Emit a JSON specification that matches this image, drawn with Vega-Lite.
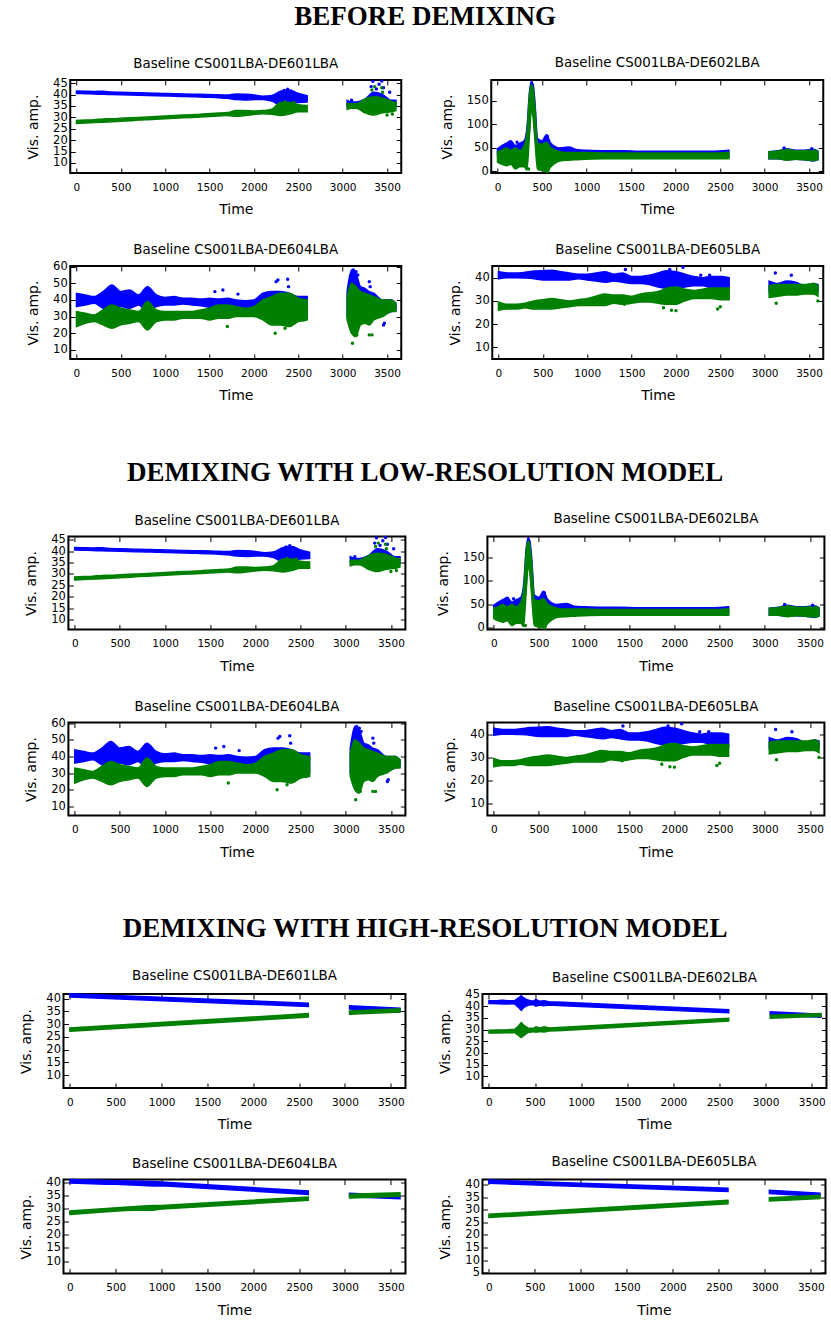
{
"$schema": "https://vega.github.io/schema/vega-lite/v6.json",
"background": "white",
"padding": {"left": 18, "top": 3, "right": 0, "bottom": 0},
"spacing": 54.5,
"center": true,
"datasets": {
"band": [
{"p":"A","s":"b","t":0,"lo":40.5,"hi":41.6},{"p":"A","s":"b","t":100,"lo":40.4,"hi":41.5},{"p":"A","s":"b","t":200,"lo":40.3,"hi":41.4},{"p":"A","s":"b","t":300,"lo":40.1,"hi":41.5},{"p":"A","s":"b","t":400,"lo":40.0,"hi":41.1},{"p":"A","s":"b","t":500,"lo":39.9,"hi":41.0},{"p":"A","s":"b","t":600,"lo":39.8,"hi":40.9},{"p":"A","s":"b","t":700,"lo":39.7,"hi":40.8},{"p":"A","s":"b","t":800,"lo":39.6,"hi":40.7},{"p":"A","s":"b","t":900,"lo":39.5,"hi":40.6},{"p":"A","s":"b","t":1000,"lo":39.4,"hi":40.5},{"p":"A","s":"b","t":1100,"lo":39.3,"hi":40.4},{"p":"A","s":"b","t":1200,"lo":39.2,"hi":40.3},{"p":"A","s":"b","t":1300,"lo":39.1,"hi":40.2},{"p":"A","s":"b","t":1400,"lo":38.9,"hi":40.1},{"p":"A","s":"b","t":1500,"lo":38.8,"hi":40.0},{"p":"A","s":"b","t":1600,"lo":38.6,"hi":39.9},{"p":"A","s":"b","t":1700,"lo":38.4,"hi":39.8},{"p":"A","s":"b","t":1800,"lo":37.8,"hi":40.3},{"p":"A","s":"b","t":1900,"lo":37.6,"hi":40.1},{"p":"A","s":"b","t":2000,"lo":37.8,"hi":39.8},{"p":"A","s":"b","t":2100,"lo":37.9,"hi":39.3},{"p":"A","s":"b","t":2200,"lo":37.2,"hi":39.6},{"p":"A","s":"b","t":2300,"lo":35.5,"hi":41.5},{"p":"A","s":"b","t":2400,"lo":35.8,"hi":42.0},{"p":"A","s":"b","t":2500,"lo":36.5,"hi":40.5},{"p":"A","s":"b","t":2600,"lo":36.8,"hi":39.5},{"p":"A","s":"b","t":2800,"lo":null,"hi":null},{"p":"A","s":"b","t":3050,"lo":35.0,"hi":37.5},{"p":"A","s":"b","t":3100,"lo":35.5,"hi":36.8},{"p":"A","s":"b","t":3150,"lo":35.5,"hi":36.8},{"p":"A","s":"b","t":3250,"lo":34.0,"hi":38.0},{"p":"A","s":"b","t":3350,"lo":33.0,"hi":41.0},{"p":"A","s":"b","t":3450,"lo":33.0,"hi":40.0},{"p":"A","s":"b","t":3550,"lo":34.0,"hi":37.5},{"p":"A","s":"b","t":3600,"lo":34.5,"hi":37.5},
{"p":"A","s":"g","t":0,"lo":27.3,"hi":28.6},{"p":"A","s":"g","t":100,"lo":27.5,"hi":28.8},{"p":"A","s":"g","t":200,"lo":27.7,"hi":29.0},{"p":"A","s":"g","t":300,"lo":27.9,"hi":29.3},{"p":"A","s":"g","t":400,"lo":28.1,"hi":29.4},{"p":"A","s":"g","t":500,"lo":28.3,"hi":29.6},{"p":"A","s":"g","t":600,"lo":28.5,"hi":29.8},{"p":"A","s":"g","t":700,"lo":28.8,"hi":30.0},{"p":"A","s":"g","t":800,"lo":29.0,"hi":30.2},{"p":"A","s":"g","t":900,"lo":29.2,"hi":30.4},{"p":"A","s":"g","t":1000,"lo":29.4,"hi":30.6},{"p":"A","s":"g","t":1100,"lo":29.6,"hi":30.8},{"p":"A","s":"g","t":1200,"lo":29.8,"hi":31.0},{"p":"A","s":"g","t":1300,"lo":30.0,"hi":31.2},{"p":"A","s":"g","t":1400,"lo":30.2,"hi":31.4},{"p":"A","s":"g","t":1500,"lo":30.4,"hi":31.7},{"p":"A","s":"g","t":1600,"lo":30.6,"hi":31.9},{"p":"A","s":"g","t":1700,"lo":30.8,"hi":32.1},{"p":"A","s":"g","t":1800,"lo":30.5,"hi":33.0},{"p":"A","s":"g","t":1900,"lo":30.8,"hi":33.0},{"p":"A","s":"g","t":2000,"lo":31.3,"hi":32.8},{"p":"A","s":"g","t":2100,"lo":31.6,"hi":33.0},{"p":"A","s":"g","t":2200,"lo":31.4,"hi":33.6},{"p":"A","s":"g","t":2300,"lo":30.8,"hi":36.5},{"p":"A","s":"g","t":2400,"lo":31.5,"hi":36.5},{"p":"A","s":"g","t":2500,"lo":32.5,"hi":35.5},{"p":"A","s":"g","t":2600,"lo":32.5,"hi":35.2},{"p":"A","s":"g","t":2800,"lo":null,"hi":null},{"p":"A","s":"g","t":3050,"lo":33.5,"hi":36.0},{"p":"A","s":"g","t":3100,"lo":34.0,"hi":36.0},{"p":"A","s":"g","t":3150,"lo":34.0,"hi":36.0},{"p":"A","s":"g","t":3250,"lo":32.0,"hi":38.0},{"p":"A","s":"g","t":3350,"lo":31.0,"hi":39.0},{"p":"A","s":"g","t":3450,"lo":32.0,"hi":38.5},{"p":"A","s":"g","t":3550,"lo":32.5,"hi":37.0},{"p":"A","s":"g","t":3600,"lo":33.0,"hi":36.5},
{"p":"B","s":"b","t":0,"lo":35,"hi":48},{"p":"B","s":"b","t":50,"lo":30,"hi":55},{"p":"B","s":"b","t":100,"lo":25,"hi":60},{"p":"B","s":"b","t":150,"lo":28,"hi":65},{"p":"B","s":"b","t":200,"lo":22,"hi":55},{"p":"B","s":"b","t":250,"lo":20,"hi":60},{"p":"B","s":"b","t":300,"lo":25,"hi":65},{"p":"B","s":"b","t":330,"lo":40,"hi":90},{"p":"B","s":"b","t":360,"lo":90,"hi":170},{"p":"B","s":"b","t":380,"lo":140,"hi":192},{"p":"B","s":"b","t":400,"lo":130,"hi":185},{"p":"B","s":"b","t":420,"lo":80,"hi":150},{"p":"B","s":"b","t":450,"lo":20,"hi":70},{"p":"B","s":"b","t":500,"lo":15,"hi":65},{"p":"B","s":"b","t":550,"lo":10,"hi":78},{"p":"B","s":"b","t":600,"lo":20,"hi":60},{"p":"B","s":"b","t":700,"lo":28,"hi":50},{"p":"B","s":"b","t":800,"lo":28,"hi":52},{"p":"B","s":"b","t":900,"lo":30,"hi":46},{"p":"B","s":"b","t":1000,"lo":30,"hi":45},{"p":"B","s":"b","t":1200,"lo":30,"hi":44},{"p":"B","s":"b","t":1400,"lo":30,"hi":44},{"p":"B","s":"b","t":1600,"lo":30,"hi":43},{"p":"B","s":"b","t":1800,"lo":30,"hi":43},{"p":"B","s":"b","t":2000,"lo":30,"hi":43},{"p":"B","s":"b","t":2200,"lo":30,"hi":43},{"p":"B","s":"b","t":2400,"lo":30,"hi":43},{"p":"B","s":"b","t":2600,"lo":30,"hi":45},{"p":"B","s":"b","t":2800,"lo":null,"hi":null},{"p":"B","s":"b","t":3050,"lo":27,"hi":42},{"p":"B","s":"b","t":3150,"lo":27,"hi":44},{"p":"B","s":"b","t":3250,"lo":25,"hi":48},{"p":"B","s":"b","t":3350,"lo":26,"hi":45},{"p":"B","s":"b","t":3450,"lo":25,"hi":45},{"p":"B","s":"b","t":3550,"lo":22,"hi":47},{"p":"B","s":"b","t":3600,"lo":25,"hi":43},
{"p":"B","s":"g","t":0,"lo":20,"hi":42},{"p":"B","s":"g","t":50,"lo":15,"hi":45},{"p":"B","s":"g","t":100,"lo":12,"hi":50},{"p":"B","s":"g","t":150,"lo":15,"hi":45},{"p":"B","s":"g","t":200,"lo":5,"hi":50},{"p":"B","s":"g","t":250,"lo":10,"hi":45},{"p":"B","s":"g","t":300,"lo":10,"hi":55},{"p":"B","s":"g","t":330,"lo":3,"hi":80},{"p":"B","s":"g","t":360,"lo":80,"hi":165},{"p":"B","s":"g","t":380,"lo":130,"hi":185},{"p":"B","s":"g","t":400,"lo":115,"hi":175},{"p":"B","s":"g","t":420,"lo":70,"hi":140},{"p":"B","s":"g","t":450,"lo":5,"hi":60},{"p":"B","s":"g","t":500,"lo":2,"hi":58},{"p":"B","s":"g","t":550,"lo":0,"hi":62},{"p":"B","s":"g","t":600,"lo":10,"hi":50},{"p":"B","s":"g","t":700,"lo":22,"hi":42},{"p":"B","s":"g","t":800,"lo":24,"hi":40},{"p":"B","s":"g","t":900,"lo":25,"hi":40},{"p":"B","s":"g","t":1000,"lo":26,"hi":40},{"p":"B","s":"g","t":1200,"lo":27,"hi":39},{"p":"B","s":"g","t":1400,"lo":27,"hi":39},{"p":"B","s":"g","t":1600,"lo":27,"hi":39},{"p":"B","s":"g","t":1800,"lo":27,"hi":39},{"p":"B","s":"g","t":2000,"lo":27,"hi":39},{"p":"B","s":"g","t":2200,"lo":27,"hi":39},{"p":"B","s":"g","t":2400,"lo":27,"hi":39},{"p":"B","s":"g","t":2600,"lo":27,"hi":41},{"p":"B","s":"g","t":2800,"lo":null,"hi":null},{"p":"B","s":"g","t":3050,"lo":27,"hi":42},{"p":"B","s":"g","t":3150,"lo":27,"hi":43},{"p":"B","s":"g","t":3250,"lo":24,"hi":47},{"p":"B","s":"g","t":3350,"lo":26,"hi":44},{"p":"B","s":"g","t":3450,"lo":25,"hi":44},{"p":"B","s":"g","t":3550,"lo":23,"hi":46},{"p":"B","s":"g","t":3600,"lo":25,"hi":42},
{"p":"C","s":"b","t":0,"lo":36,"hi":44},{"p":"C","s":"b","t":100,"lo":37,"hi":43},{"p":"C","s":"b","t":200,"lo":38,"hi":42},{"p":"C","s":"b","t":300,"lo":35,"hi":45},{"p":"C","s":"b","t":400,"lo":34,"hi":49},{"p":"C","s":"b","t":500,"lo":36,"hi":45},{"p":"C","s":"b","t":600,"lo":35,"hi":46},{"p":"C","s":"b","t":700,"lo":37,"hi":43},{"p":"C","s":"b","t":800,"lo":33,"hi":48},{"p":"C","s":"b","t":900,"lo":36,"hi":43},{"p":"C","s":"b","t":1000,"lo":37,"hi":41.5},{"p":"C","s":"b","t":1100,"lo":37,"hi":42},{"p":"C","s":"b","t":1200,"lo":37.5,"hi":41},{"p":"C","s":"b","t":1300,"lo":37,"hi":41},{"p":"C","s":"b","t":1400,"lo":36.5,"hi":40.5},{"p":"C","s":"b","t":1500,"lo":35.5,"hi":41},{"p":"C","s":"b","t":1600,"lo":35,"hi":40.5},{"p":"C","s":"b","t":1700,"lo":35,"hi":41},{"p":"C","s":"b","t":1800,"lo":34.5,"hi":40},{"p":"C","s":"b","t":1900,"lo":35,"hi":39.5},{"p":"C","s":"b","t":2000,"lo":35,"hi":40},{"p":"C","s":"b","t":2100,"lo":33,"hi":44},{"p":"C","s":"b","t":2200,"lo":31,"hi":45},{"p":"C","s":"b","t":2300,"lo":30,"hi":45},{"p":"C","s":"b","t":2400,"lo":30,"hi":44},{"p":"C","s":"b","t":2500,"lo":31,"hi":42},{"p":"C","s":"b","t":2600,"lo":30,"hi":42},{"p":"C","s":"b","t":2800,"lo":null,"hi":null},{"p":"C","s":"b","t":3050,"lo":30,"hi":45},{"p":"C","s":"b","t":3100,"lo":25,"hi":58},{"p":"C","s":"b","t":3150,"lo":22,"hi":56},{"p":"C","s":"b","t":3200,"lo":28,"hi":48},{"p":"C","s":"b","t":3250,"lo":30,"hi":47},{"p":"C","s":"b","t":3300,"lo":28,"hi":45},{"p":"C","s":"b","t":3350,"lo":30,"hi":44},{"p":"C","s":"b","t":3450,"lo":31,"hi":40},{"p":"C","s":"b","t":3550,"lo":33,"hi":40},{"p":"C","s":"b","t":3600,"lo":34,"hi":38},
{"p":"C","s":"g","t":0,"lo":24,"hi":33},{"p":"C","s":"g","t":100,"lo":26,"hi":32},{"p":"C","s":"g","t":200,"lo":27,"hi":31},{"p":"C","s":"g","t":300,"lo":25,"hi":34},{"p":"C","s":"g","t":400,"lo":23,"hi":37},{"p":"C","s":"g","t":500,"lo":25,"hi":35},{"p":"C","s":"g","t":600,"lo":26,"hi":34},{"p":"C","s":"g","t":700,"lo":27,"hi":33},{"p":"C","s":"g","t":800,"lo":22,"hi":39},{"p":"C","s":"g","t":900,"lo":27,"hi":34},{"p":"C","s":"g","t":1000,"lo":28,"hi":33},{"p":"C","s":"g","t":1100,"lo":28,"hi":33},{"p":"C","s":"g","t":1200,"lo":29,"hi":33},{"p":"C","s":"g","t":1300,"lo":29,"hi":33},{"p":"C","s":"g","t":1400,"lo":29,"hi":34},{"p":"C","s":"g","t":1500,"lo":28,"hi":35},{"p":"C","s":"g","t":1600,"lo":29,"hi":37},{"p":"C","s":"g","t":1700,"lo":29,"hi":37},{"p":"C","s":"g","t":1800,"lo":30,"hi":36},{"p":"C","s":"g","t":1900,"lo":30,"hi":35},{"p":"C","s":"g","t":2000,"lo":30,"hi":36},{"p":"C","s":"g","t":2100,"lo":28,"hi":40},{"p":"C","s":"g","t":2200,"lo":25,"hi":42},{"p":"C","s":"g","t":2300,"lo":25,"hi":44},{"p":"C","s":"g","t":2400,"lo":24,"hi":44},{"p":"C","s":"g","t":2500,"lo":27,"hi":41},{"p":"C","s":"g","t":2600,"lo":28,"hi":40},{"p":"C","s":"g","t":2800,"lo":null,"hi":null},{"p":"C","s":"g","t":3050,"lo":28,"hi":42},{"p":"C","s":"g","t":3100,"lo":20,"hi":50},{"p":"C","s":"g","t":3150,"lo":18,"hi":48},{"p":"C","s":"g","t":3200,"lo":25,"hi":45},{"p":"C","s":"g","t":3250,"lo":26,"hi":44},{"p":"C","s":"g","t":3300,"lo":25,"hi":43},{"p":"C","s":"g","t":3350,"lo":28,"hi":42},{"p":"C","s":"g","t":3450,"lo":30,"hi":40},{"p":"C","s":"g","t":3550,"lo":33,"hi":40},{"p":"C","s":"g","t":3600,"lo":33,"hi":38},
{"p":"D","s":"b","t":0,"lo":39.5,"hi":42.5},{"p":"D","s":"b","t":100,"lo":40,"hi":42},{"p":"D","s":"b","t":200,"lo":40,"hi":42},{"p":"D","s":"b","t":300,"lo":39.8,"hi":42.3},{"p":"D","s":"b","t":400,"lo":39.5,"hi":42.8},{"p":"D","s":"b","t":500,"lo":39,"hi":43},{"p":"D","s":"b","t":600,"lo":39,"hi":43.2},{"p":"D","s":"b","t":700,"lo":39,"hi":42.5},{"p":"D","s":"b","t":800,"lo":39,"hi":42},{"p":"D","s":"b","t":900,"lo":39.5,"hi":41.5},{"p":"D","s":"b","t":1000,"lo":39,"hi":41.5},{"p":"D","s":"b","t":1100,"lo":38.5,"hi":42},{"p":"D","s":"b","t":1200,"lo":38,"hi":42.5},{"p":"D","s":"b","t":1300,"lo":38.5,"hi":41.5},{"p":"D","s":"b","t":1400,"lo":38,"hi":42},{"p":"D","s":"b","t":1500,"lo":37.5,"hi":40.5},{"p":"D","s":"b","t":1600,"lo":37.5,"hi":40.5},{"p":"D","s":"b","t":1700,"lo":37,"hi":41},{"p":"D","s":"b","t":1800,"lo":36,"hi":42},{"p":"D","s":"b","t":1900,"lo":35.5,"hi":43},{"p":"D","s":"b","t":2000,"lo":35.5,"hi":42.5},{"p":"D","s":"b","t":2100,"lo":36,"hi":41.5},{"p":"D","s":"b","t":2200,"lo":36.5,"hi":40.5},{"p":"D","s":"b","t":2300,"lo":36.5,"hi":40},{"p":"D","s":"b","t":2400,"lo":35.5,"hi":40.5},{"p":"D","s":"b","t":2500,"lo":35,"hi":40.5},{"p":"D","s":"b","t":2600,"lo":34.5,"hi":40},{"p":"D","s":"b","t":2800,"lo":null,"hi":null},{"p":"D","s":"b","t":3050,"lo":34,"hi":38.5},{"p":"D","s":"b","t":3150,"lo":35,"hi":37.5},{"p":"D","s":"b","t":3250,"lo":34.5,"hi":38.5},{"p":"D","s":"b","t":3350,"lo":34.5,"hi":38},{"p":"D","s":"b","t":3450,"lo":34,"hi":36.5},{"p":"D","s":"b","t":3550,"lo":34,"hi":37.5},{"p":"D","s":"b","t":3600,"lo":34,"hi":37},
{"p":"D","s":"g","t":0,"lo":26,"hi":29.5},{"p":"D","s":"g","t":100,"lo":26.5,"hi":28.5},{"p":"D","s":"g","t":200,"lo":26.5,"hi":28.5},{"p":"D","s":"g","t":300,"lo":27,"hi":29},{"p":"D","s":"g","t":400,"lo":26.5,"hi":30},{"p":"D","s":"g","t":500,"lo":26.5,"hi":30.5},{"p":"D","s":"g","t":600,"lo":26.5,"hi":31},{"p":"D","s":"g","t":700,"lo":27,"hi":30.5},{"p":"D","s":"g","t":800,"lo":27.5,"hi":30},{"p":"D","s":"g","t":900,"lo":28,"hi":30.5},{"p":"D","s":"g","t":1000,"lo":28,"hi":31},{"p":"D","s":"g","t":1100,"lo":28,"hi":32},{"p":"D","s":"g","t":1200,"lo":28,"hi":33},{"p":"D","s":"g","t":1300,"lo":29,"hi":32.5},{"p":"D","s":"g","t":1400,"lo":28.5,"hi":32.5},{"p":"D","s":"g","t":1500,"lo":29,"hi":32},{"p":"D","s":"g","t":1600,"lo":29.5,"hi":33},{"p":"D","s":"g","t":1700,"lo":29.5,"hi":33.5},{"p":"D","s":"g","t":1800,"lo":29,"hi":34},{"p":"D","s":"g","t":1900,"lo":28.5,"hi":35.5},{"p":"D","s":"g","t":2000,"lo":28.5,"hi":36},{"p":"D","s":"g","t":2100,"lo":30,"hi":35},{"p":"D","s":"g","t":2200,"lo":31,"hi":34.5},{"p":"D","s":"g","t":2300,"lo":31,"hi":35},{"p":"D","s":"g","t":2400,"lo":31,"hi":35.5},{"p":"D","s":"g","t":2500,"lo":30.5,"hi":35.5},{"p":"D","s":"g","t":2600,"lo":30.5,"hi":35.5},{"p":"D","s":"g","t":2800,"lo":null,"hi":null},{"p":"D","s":"g","t":3050,"lo":31.5,"hi":36.5},{"p":"D","s":"g","t":3150,"lo":32,"hi":37},{"p":"D","s":"g","t":3250,"lo":32.5,"hi":37},{"p":"D","s":"g","t":3350,"lo":32.5,"hi":37},{"p":"D","s":"g","t":3450,"lo":33,"hi":37},{"p":"D","s":"g","t":3550,"lo":33,"hi":37.5},{"p":"D","s":"g","t":3600,"lo":32,"hi":36.5},
{"p":"HA","s":"b","t":0,"lo":40.6,"hi":41.9},{"p":"HA","s":"b","t":2600,"lo":36.9,"hi":38.2},{"p":"HA","s":"b","t":2800,"lo":null,"hi":null},{"p":"HA","s":"b","t":3050,"lo":35.9,"hi":37.2},{"p":"HA","s":"b","t":3600,"lo":34.9,"hi":36.2},
{"p":"HA","s":"g","t":0,"lo":27.2,"hi":28.5},{"p":"HA","s":"g","t":2600,"lo":32.8,"hi":34.1},{"p":"HA","s":"g","t":2800,"lo":null,"hi":null},{"p":"HA","s":"g","t":3050,"lo":33.9,"hi":35.2},{"p":"HA","s":"g","t":3600,"lo":34.7,"hi":36.0},
{"p":"HB","s":"b","t":0,"lo":41.1,"hi":42.3},{"p":"HB","s":"b","t":100,"lo":41.0,"hi":42.4},{"p":"HB","s":"b","t":150,"lo":40.9,"hi":42.5},{"p":"HB","s":"b","t":200,"lo":41.0,"hi":42.3},{"p":"HB","s":"b","t":280,"lo":40.9,"hi":42.4},{"p":"HB","s":"b","t":320,"lo":39.5,"hi":43.5},{"p":"HB","s":"b","t":350,"lo":38.2,"hi":44.5},{"p":"HB","s":"b","t":380,"lo":39.5,"hi":43.5},{"p":"HB","s":"b","t":420,"lo":40.4,"hi":42.6},{"p":"HB","s":"b","t":480,"lo":40.7,"hi":42.1},{"p":"HB","s":"b","t":510,"lo":40.0,"hi":42.8},{"p":"HB","s":"b","t":550,"lo":40.5,"hi":42.1},{"p":"HB","s":"b","t":600,"lo":40.2,"hi":42.3},{"p":"HB","s":"b","t":650,"lo":40.5,"hi":41.9},{"p":"HB","s":"b","t":800,"lo":40.2,"hi":41.7},{"p":"HB","s":"b","t":2600,"lo":37.2,"hi":38.5},{"p":"HB","s":"b","t":2800,"lo":null,"hi":null},{"p":"HB","s":"b","t":3050,"lo":36.3,"hi":37.6},{"p":"HB","s":"b","t":3600,"lo":35.3,"hi":36.6},
{"p":"HB","s":"g","t":0,"lo":28.5,"hi":29.7},{"p":"HB","s":"g","t":100,"lo":28.5,"hi":29.8},{"p":"HB","s":"g","t":200,"lo":28.6,"hi":29.9},{"p":"HB","s":"g","t":280,"lo":28.7,"hi":30.1},{"p":"HB","s":"g","t":320,"lo":27.5,"hi":31.5},{"p":"HB","s":"g","t":350,"lo":26.6,"hi":33.0},{"p":"HB","s":"g","t":380,"lo":27.5,"hi":31.8},{"p":"HB","s":"g","t":420,"lo":28.7,"hi":30.7},{"p":"HB","s":"g","t":480,"lo":29.1,"hi":30.4},{"p":"HB","s":"g","t":510,"lo":28.8,"hi":31.2},{"p":"HB","s":"g","t":550,"lo":29.2,"hi":30.7},{"p":"HB","s":"g","t":600,"lo":29.0,"hi":31.2},{"p":"HB","s":"g","t":650,"lo":29.4,"hi":30.7},{"p":"HB","s":"g","t":800,"lo":29.6,"hi":31.0},{"p":"HB","s":"g","t":2600,"lo":33.6,"hi":34.8},{"p":"HB","s":"g","t":2800,"lo":null,"hi":null},{"p":"HB","s":"g","t":3050,"lo":34.8,"hi":36.1},{"p":"HB","s":"g","t":3600,"lo":35.7,"hi":36.9},
{"p":"HC","s":"b","t":0,"lo":40.0,"hi":41.3},{"p":"HC","s":"b","t":400,"lo":39.5,"hi":40.9},{"p":"HC","s":"b","t":500,"lo":39.5,"hi":40.8},{"p":"HC","s":"b","t":800,"lo":39.0,"hi":40.6},{"p":"HC","s":"b","t":900,"lo":38.8,"hi":40.5},{"p":"HC","s":"b","t":1000,"lo":38.9,"hi":40.3},{"p":"HC","s":"b","t":2600,"lo":35.6,"hi":36.9},{"p":"HC","s":"b","t":2800,"lo":null,"hi":null},{"p":"HC","s":"b","t":3050,"lo":34.7,"hi":36.0},{"p":"HC","s":"b","t":3600,"lo":33.9,"hi":35.2},
{"p":"HC","s":"g","t":0,"lo":27.9,"hi":29.2},{"p":"HC","s":"g","t":400,"lo":28.9,"hi":30.2},{"p":"HC","s":"g","t":600,"lo":29.4,"hi":30.6},{"p":"HC","s":"g","t":800,"lo":29.6,"hi":31.1},{"p":"HC","s":"g","t":900,"lo":29.5,"hi":31.3},{"p":"HC","s":"g","t":1000,"lo":30.0,"hi":31.3},{"p":"HC","s":"g","t":2600,"lo":33.3,"hi":34.6},{"p":"HC","s":"g","t":2800,"lo":null,"hi":null},{"p":"HC","s":"g","t":3050,"lo":34.2,"hi":35.6},{"p":"HC","s":"g","t":3600,"lo":34.9,"hi":36.2},
{"p":"HD","s":"b","t":0,"lo":40.5,"hi":41.8},{"p":"HD","s":"b","t":2600,"lo":37.2,"hi":38.5},{"p":"HD","s":"b","t":2800,"lo":null,"hi":null},{"p":"HD","s":"b","t":3050,"lo":36.4,"hi":37.7},{"p":"HD","s":"b","t":3600,"lo":35.3,"hi":36.6},
{"p":"HD","s":"g","t":0,"lo":26.9,"hi":28.2},{"p":"HD","s":"g","t":2600,"lo":32.4,"hi":33.7},{"p":"HD","s":"g","t":2800,"lo":null,"hi":null},{"p":"HD","s":"g","t":3050,"lo":33.5,"hi":34.8},{"p":"HD","s":"g","t":3600,"lo":34.4,"hi":35.7}
],
"pts": [
{"p":"A","s":"b","t":2340,"v":41.8},{"p":"A","s":"b","t":2380,"v":42.3},{"p":"A","s":"b","t":2420,"v":41.5},{"p":"A","s":"b","t":3320,"v":43.5},{"p":"A","s":"b","t":3340,"v":45.8},{"p":"A","s":"b","t":3380,"v":42.5},{"p":"A","s":"b","t":3410,"v":44.5},{"p":"A","s":"b","t":3440,"v":46},{"p":"A","s":"b","t":3460,"v":43},{"p":"A","s":"b","t":3530,"v":41},{"p":"A","s":"b","t":3100,"v":37.5},
{"p":"A","s":"g","t":3330,"v":42},{"p":"A","s":"g","t":3360,"v":43.5},{"p":"A","s":"g","t":3440,"v":43},{"p":"A","s":"g","t":3450,"v":41},{"p":"A","s":"g","t":3500,"v":31},{"p":"A","s":"g","t":3560,"v":31.5},{"p":"A","s":"g","t":2350,"v":36.8},{"p":"A","s":"g","t":2450,"v":36.5},
{"p":"B","s":"b","t":560,"v":75},{"p":"B","s":"b","t":220,"v":62},{"p":"B","s":"b","t":3220,"v":50},{"p":"B","s":"b","t":3530,"v":48},
{"p":"B","s":"g","t":350,"v":5},{"p":"B","s":"g","t":560,"v":0},{"p":"B","s":"g","t":570,"v":3},
{"p":"C","s":"b","t":2250,"v":51},{"p":"C","s":"b","t":2270,"v":52},{"p":"C","s":"b","t":2380,"v":52.5},{"p":"C","s":"b","t":2390,"v":48},{"p":"C","s":"b","t":3120,"v":58},{"p":"C","s":"b","t":3150,"v":57},{"p":"C","s":"b","t":3170,"v":55},{"p":"C","s":"b","t":3300,"v":51},{"p":"C","s":"b","t":3310,"v":48},{"p":"C","s":"b","t":1560,"v":45},{"p":"C","s":"b","t":1650,"v":46},{"p":"C","s":"b","t":1820,"v":43.5},{"p":"C","s":"b","t":3470,"v":26},{"p":"C","s":"b","t":3460,"v":25},
{"p":"C","s":"g","t":2240,"v":20},{"p":"C","s":"g","t":2350,"v":23},{"p":"C","s":"g","t":3110,"v":14},{"p":"C","s":"g","t":3160,"v":19},{"p":"C","s":"g","t":3300,"v":19},{"p":"C","s":"g","t":3330,"v":19},{"p":"C","s":"g","t":1700,"v":24},{"p":"C","s":"g","t":2560,"v":28},{"p":"C","s":"g","t":3180,"v":25},
{"p":"D","s":"b","t":1430,"v":43.5},{"p":"D","s":"b","t":2080,"v":44.5},{"p":"D","s":"b","t":1930,"v":43.5},{"p":"D","s":"b","t":3120,"v":42},{"p":"D","s":"b","t":3300,"v":41},{"p":"D","s":"b","t":2380,"v":41},{"p":"D","s":"b","t":2280,"v":41},
{"p":"D","s":"g","t":1950,"v":26},{"p":"D","s":"g","t":2000,"v":25.8},{"p":"D","s":"g","t":2470,"v":26.5},{"p":"D","s":"g","t":2500,"v":27.5},{"p":"D","s":"g","t":1420,"v":28.5},{"p":"D","s":"g","t":3130,"v":29},{"p":"D","s":"g","t":3600,"v":30},{"p":"D","s":"g","t":1860,"v":27}
]
},
"vconcat": [
{"title": {"text": "BEFORE DEMIXING", "font": "Liberation Serif", "fontSize": 27, "fontWeight": "bold", "anchor": "middle", "offset": 23.5, "color": "black"},
 "spacing": 24,
 "vconcat": [
  {"hconcat": [
   {"title": {"text": "Baseline CS001LBA-DE601LBA", "offset": 6.4}, "width": 331, "height": 93, "layer": [
    {"data": {"name": "band"}, "transform": [{"filter": "datum.p=='A'"}], "mark": {"type": "area", "strokeWidth": 1.5, "interpolate": "monotone"}, "encoding": {
      "x": {"field": "t", "type": "quantitative", "scale": {"domain": [-70, 3660], "nice": false, "zero": false}, "axis": {"title": "Time", "values": [0,500,1000,1500,2000,2500,3000,3500]}},
      "y": {"field": "lo", "type": "quantitative", "stack": null, "scale": {"domain": [5.6, 46.4], "nice": false, "zero": false}, "axis": {"title": "Vis. amp.", "values": [10,15,20,25,30,35,40,45]}},
      "y2": {"field": "hi"},
      "color": {"field": "s", "type": "nominal", "scale": {"domain": ["b","g"], "range": ["#0000ff","#008000"]}, "legend": null},
      "stroke": {"field": "s", "type": "nominal", "scale": {"domain": ["b","g"], "range": ["#0000ff","#008000"]}, "legend": null}}},
    {"data": {"name": "pts"}, "transform": [{"filter": "datum.p=='A'"}], "mark": {"type": "circle", "size": 12, "opacity": 1}, "encoding": {
      "x": {"field": "t", "type": "quantitative", "axis": {"orient": "top", "labels": false, "title": null, "values": [0,500,1000,1500,2000,2500,3000,3500]}},
      "y": {"field": "v", "type": "quantitative", "axis": {"orient": "right", "labels": false, "title": null, "titlePadding": 0, "values": [10,15,20,25,30,35,40,45]}},
      "color": {"field": "s", "type": "nominal", "legend": null}}}],
    "resolve": {"axis": {"x": "independent", "y": "independent"}}},
   {"title": {"text": "Baseline CS001LBA-DE602LBA", "offset": 9}, "width": 332, "height": 93, "layer": [
    {"data": {"name": "band"}, "transform": [{"filter": "datum.p=='B'"}], "mark": {"type": "area", "strokeWidth": 1.5, "interpolate": "monotone"}, "encoding": {
      "x": {"field": "t", "type": "quantitative", "scale": {"domain": [-70, 3660], "nice": false, "zero": false}, "axis": {"title": "Time", "values": [0,500,1000,1500,2000,2500,3000,3500]}},
      "y": {"field": "lo", "type": "quantitative", "stack": null, "scale": {"domain": [-3.4, 194.6], "nice": false, "zero": false}, "axis": {"title": "Vis. amp.", "values": [0,50,100,150]}},
      "y2": {"field": "hi"},
      "color": {"field": "s", "type": "nominal", "scale": {"domain": ["b","g"], "range": ["#0000ff","#008000"]}, "legend": null},
      "stroke": {"field": "s", "type": "nominal", "scale": {"domain": ["b","g"], "range": ["#0000ff","#008000"]}, "legend": null}}},
    {"data": {"name": "pts"}, "transform": [{"filter": "datum.p=='B'"}], "mark": {"type": "circle", "size": 12, "opacity": 1}, "encoding": {
      "x": {"field": "t", "type": "quantitative", "axis": {"orient": "top", "labels": false, "title": null, "values": [0,500,1000,1500,2000,2500,3000,3500]}},
      "y": {"field": "v", "type": "quantitative", "axis": {"orient": "right", "labels": false, "title": null, "titlePadding": 0, "values": [0,50,100,150]}},
      "color": {"field": "s", "type": "nominal", "legend": null}}}],
    "resolve": {"axis": {"x": "independent", "y": "independent"}}}
  ], "spacing": 36},
  {"hconcat": [
   {"title": {"text": "Baseline CS001LBA-DE604LBA", "offset": 3.9}, "width": 331, "height": 93, "layer": [
    {"data": {"name": "band"}, "transform": [{"filter": "datum.p=='C'"}], "mark": {"type": "area", "strokeWidth": 1.5, "interpolate": "monotone"}, "encoding": {
      "x": {"field": "t", "type": "quantitative", "scale": {"domain": [-70, 3660], "nice": false, "zero": false}, "axis": {"title": "Time", "values": [0,500,1000,1500,2000,2500,3000,3500]}},
      "y": {"field": "lo", "type": "quantitative", "stack": null, "scale": {"domain": [4.5, 60.4], "nice": false, "zero": false}, "axis": {"title": "Vis. amp.", "values": [10,20,30,40,50,60]}},
      "y2": {"field": "hi"},
      "color": {"field": "s", "type": "nominal", "scale": {"domain": ["b","g"], "range": ["#0000ff","#008000"]}, "legend": null},
      "stroke": {"field": "s", "type": "nominal", "scale": {"domain": ["b","g"], "range": ["#0000ff","#008000"]}, "legend": null}}},
    {"data": {"name": "pts"}, "transform": [{"filter": "datum.p=='C'"}], "mark": {"type": "circle", "size": 12, "opacity": 1}, "encoding": {
      "x": {"field": "t", "type": "quantitative", "axis": {"orient": "top", "labels": false, "title": null, "values": [0,500,1000,1500,2000,2500,3000,3500]}},
      "y": {"field": "v", "type": "quantitative", "axis": {"orient": "right", "labels": false, "title": null, "titlePadding": 0, "values": [10,20,30,40,50,60]}},
      "color": {"field": "s", "type": "nominal", "legend": null}}}],
    "resolve": {"axis": {"x": "independent", "y": "independent"}}},
   {"title": {"text": "Baseline CS001LBA-DE605LBA", "offset": 9}, "width": 331, "height": 93, "layer": [
    {"data": {"name": "band"}, "transform": [{"filter": "datum.p=='D'"}], "mark": {"type": "area", "strokeWidth": 1.5, "interpolate": "monotone"}, "encoding": {
      "x": {"field": "t", "type": "quantitative", "scale": {"domain": [-70, 3660], "nice": false, "zero": false}, "axis": {"title": "Time", "values": [0,500,1000,1500,2000,2500,3000,3500]}},
      "y": {"field": "lo", "type": "quantitative", "stack": null, "scale": {"domain": [5, 45], "nice": false, "zero": false}, "axis": {"title": "Vis. amp.", "values": [10,20,30,40]}},
      "y2": {"field": "hi"},
      "color": {"field": "s", "type": "nominal", "scale": {"domain": ["b","g"], "range": ["#0000ff","#008000"]}, "legend": null},
      "stroke": {"field": "s", "type": "nominal", "scale": {"domain": ["b","g"], "range": ["#0000ff","#008000"]}, "legend": null}}},
    {"data": {"name": "pts"}, "transform": [{"filter": "datum.p=='D'"}], "mark": {"type": "circle", "size": 12, "opacity": 1}, "encoding": {
      "x": {"field": "t", "type": "quantitative", "axis": {"orient": "top", "labels": false, "title": null, "values": [0,500,1000,1500,2000,2500,3000,3500]}},
      "y": {"field": "v", "type": "quantitative", "axis": {"orient": "right", "labels": false, "title": null, "titlePadding": 0, "values": [10,20,30,40]}},
      "color": {"field": "s", "type": "nominal", "legend": null}}}],
    "resolve": {"axis": {"x": "independent", "y": "independent"}}}
  ], "spacing": 44}
 ]},
{"title": {"text": "DEMIXING WITH LOW-RESOLUTION MODEL", "font": "Liberation Serif", "fontSize": 27, "fontWeight": "bold", "anchor": "middle", "offset": 24.5, "color": "black"},
 "spacing": 24,
 "vconcat": [
  {"hconcat": [
   {"title": {"text": "Baseline CS001LBA-DE601LBA", "offset": 6.4}, "width": 337, "height": 93, "layer": [
    {"data": {"name": "band"}, "transform": [{"filter": "datum.p=='A'"}], "mark": {"type": "area", "strokeWidth": 1.5, "interpolate": "monotone"}, "encoding": {
      "x": {"field": "t", "type": "quantitative", "scale": {"domain": [-70, 3660], "nice": false, "zero": false}, "axis": {"title": "Time", "values": [0,500,1000,1500,2000,2500,3000,3500]}},
      "y": {"field": "lo", "type": "quantitative", "stack": null, "scale": {"domain": [5.6, 46.4], "nice": false, "zero": false}, "axis": {"title": "Vis. amp.", "values": [10,15,20,25,30,35,40,45]}},
      "y2": {"field": "hi"},
      "color": {"field": "s", "type": "nominal", "scale": {"domain": ["b","g"], "range": ["#0000ff","#008000"]}, "legend": null},
      "stroke": {"field": "s", "type": "nominal", "scale": {"domain": ["b","g"], "range": ["#0000ff","#008000"]}, "legend": null}}},
    {"data": {"name": "pts"}, "transform": [{"filter": "datum.p=='A'"}], "mark": {"type": "circle", "size": 12, "opacity": 1}, "encoding": {
      "x": {"field": "t", "type": "quantitative", "axis": {"orient": "top", "labels": false, "title": null, "values": [0,500,1000,1500,2000,2500,3000,3500]}},
      "y": {"field": "v", "type": "quantitative", "axis": {"orient": "right", "labels": false, "title": null, "titlePadding": 0, "values": [10,15,20,25,30,35,40,45]}},
      "color": {"field": "s", "type": "nominal", "legend": null}}}],
    "resolve": {"axis": {"x": "independent", "y": "independent"}}},
   {"title": {"text": "Baseline CS001LBA-DE602LBA", "offset": 9}, "width": 337, "height": 93, "layer": [
    {"data": {"name": "band"}, "transform": [{"filter": "datum.p=='B'"}], "mark": {"type": "area", "strokeWidth": 1.5, "interpolate": "monotone"}, "encoding": {
      "x": {"field": "t", "type": "quantitative", "scale": {"domain": [-70, 3660], "nice": false, "zero": false}, "axis": {"title": "Time", "values": [0,500,1000,1500,2000,2500,3000,3500]}},
      "y": {"field": "lo", "type": "quantitative", "stack": null, "scale": {"domain": [-3.4, 194.6], "nice": false, "zero": false}, "axis": {"title": "Vis. amp.", "values": [0,50,100,150]}},
      "y2": {"field": "hi"},
      "color": {"field": "s", "type": "nominal", "scale": {"domain": ["b","g"], "range": ["#0000ff","#008000"]}, "legend": null},
      "stroke": {"field": "s", "type": "nominal", "scale": {"domain": ["b","g"], "range": ["#0000ff","#008000"]}, "legend": null}}},
    {"data": {"name": "pts"}, "transform": [{"filter": "datum.p=='B'"}], "mark": {"type": "circle", "size": 12, "opacity": 1}, "encoding": {
      "x": {"field": "t", "type": "quantitative", "axis": {"orient": "top", "labels": false, "title": null, "values": [0,500,1000,1500,2000,2500,3000,3500]}},
      "y": {"field": "v", "type": "quantitative", "axis": {"orient": "right", "labels": false, "title": null, "titlePadding": 0, "minExtent": 1.2, "values": [0,50,100,150]}},
      "color": {"field": "s", "type": "nominal", "legend": null}}}],
    "resolve": {"axis": {"x": "independent", "y": "independent"}}}
  ], "spacing": 28},
  {"hconcat": [
   {"title": {"text": "Baseline CS001LBA-DE604LBA", "offset": 3.9}, "width": 337, "height": 93, "layer": [
    {"data": {"name": "band"}, "transform": [{"filter": "datum.p=='C'"}], "mark": {"type": "area", "strokeWidth": 1.5, "interpolate": "monotone"}, "encoding": {
      "x": {"field": "t", "type": "quantitative", "scale": {"domain": [-70, 3660], "nice": false, "zero": false}, "axis": {"title": "Time", "values": [0,500,1000,1500,2000,2500,3000,3500]}},
      "y": {"field": "lo", "type": "quantitative", "stack": null, "scale": {"domain": [4.5, 60.4], "nice": false, "zero": false}, "axis": {"title": "Vis. amp.", "values": [10,20,30,40,50,60]}},
      "y2": {"field": "hi"},
      "color": {"field": "s", "type": "nominal", "scale": {"domain": ["b","g"], "range": ["#0000ff","#008000"]}, "legend": null},
      "stroke": {"field": "s", "type": "nominal", "scale": {"domain": ["b","g"], "range": ["#0000ff","#008000"]}, "legend": null}}},
    {"data": {"name": "pts"}, "transform": [{"filter": "datum.p=='C'"}], "mark": {"type": "circle", "size": 12, "opacity": 1}, "encoding": {
      "x": {"field": "t", "type": "quantitative", "axis": {"orient": "top", "labels": false, "title": null, "values": [0,500,1000,1500,2000,2500,3000,3500]}},
      "y": {"field": "v", "type": "quantitative", "axis": {"orient": "right", "labels": false, "title": null, "titlePadding": 0, "values": [10,20,30,40,50,60]}},
      "color": {"field": "s", "type": "nominal", "legend": null}}}],
    "resolve": {"axis": {"x": "independent", "y": "independent"}}},
   {"title": {"text": "Baseline CS001LBA-DE605LBA", "offset": 9}, "width": 337, "height": 93, "layer": [
    {"data": {"name": "band"}, "transform": [{"filter": "datum.p=='D'"}], "mark": {"type": "area", "strokeWidth": 1.5, "interpolate": "monotone"}, "encoding": {
      "x": {"field": "t", "type": "quantitative", "scale": {"domain": [-70, 3660], "nice": false, "zero": false}, "axis": {"title": "Time", "values": [0,500,1000,1500,2000,2500,3000,3500]}},
      "y": {"field": "lo", "type": "quantitative", "stack": null, "scale": {"domain": [5, 45], "nice": false, "zero": false}, "axis": {"title": "Vis. amp.", "values": [10,20,30,40]}},
      "y2": {"field": "hi"},
      "color": {"field": "s", "type": "nominal", "scale": {"domain": ["b","g"], "range": ["#0000ff","#008000"]}, "legend": null},
      "stroke": {"field": "s", "type": "nominal", "scale": {"domain": ["b","g"], "range": ["#0000ff","#008000"]}, "legend": null}}},
    {"data": {"name": "pts"}, "transform": [{"filter": "datum.p=='D'"}], "mark": {"type": "circle", "size": 12, "opacity": 1}, "encoding": {
      "x": {"field": "t", "type": "quantitative", "axis": {"orient": "top", "labels": false, "title": null, "values": [0,500,1000,1500,2000,2500,3000,3500]}},
      "y": {"field": "v", "type": "quantitative", "axis": {"orient": "right", "labels": false, "title": null, "titlePadding": 0, "minExtent": 1.2, "values": [10,20,30,40]}},
      "color": {"field": "s", "type": "nominal", "legend": null}}}],
    "resolve": {"axis": {"x": "independent", "y": "independent"}}}
  ], "spacing": 35}
 ]},
{"title": {"text": "DEMIXING WITH HIGH-RESOLUTION MODEL", "font": "Liberation Serif", "fontSize": 27, "fontWeight": "bold", "anchor": "middle", "offset": 25.4, "color": "black"},
 "spacing": 20.5,
 "vconcat": [
  {"hconcat": [
   {"title": {"text": "Baseline CS001LBA-DE601LBA", "offset": 7.85}, "width": 342, "height": 94, "layer": [
    {"data": {"name": "band"}, "transform": [{"filter": "datum.p=='HA'"}], "mark": {"type": "area", "strokeWidth": 1.5, "interpolate": "linear"}, "encoding": {
      "x": {"field": "t", "type": "quantitative", "scale": {"domain": [-70, 3660], "nice": false, "zero": false}, "axis": {"title": "Time", "values": [0,500,1000,1500,2000,2500,3000,3500]}},
      "y": {"field": "lo", "type": "quantitative", "stack": null, "scale": {"domain": [5, 41.8], "nice": false, "zero": false}, "axis": {"title": "Vis. amp.", "values": [10,15,20,25,30,35,40]}},
      "y2": {"field": "hi"},
      "color": {"field": "s", "type": "nominal", "scale": {"domain": ["b","g"], "range": ["#0000ff","#008000"]}, "legend": null},
      "stroke": {"field": "s", "type": "nominal", "scale": {"domain": ["b","g"], "range": ["#0000ff","#008000"]}, "legend": null}}},
    {"data": {"name": "pts"}, "transform": [{"filter": "datum.p=='HA'"}], "mark": {"type": "circle", "size": 12, "opacity": 1}, "encoding": {
      "x": {"field": "t", "type": "quantitative", "axis": {"orient": "top", "labels": false, "title": null, "values": [0,500,1000,1500,2000,2500,3000,3500]}},
      "y": {"field": "v", "type": "quantitative", "axis": {"orient": "right", "labels": false, "title": null, "titlePadding": 0, "values": [10,15,20,25,30,35,40]}},
      "color": {"field": "s", "type": "nominal", "legend": null}}}],
    "resolve": {"axis": {"x": "independent", "y": "independent"}}},
   {"title": {"text": "Baseline CS001LBA-DE602LBA", "offset": 3.7}, "width": 344, "height": 94, "layer": [
    {"data": {"name": "band"}, "transform": [{"filter": "datum.p=='HB'"}], "mark": {"type": "area", "strokeWidth": 1.5, "interpolate": "linear"}, "encoding": {
      "x": {"field": "t", "type": "quantitative", "scale": {"domain": [-70, 3660], "nice": false, "zero": false}, "axis": {"title": "Time", "values": [0,500,1000,1500,2000,2500,3000,3500]}},
      "y": {"field": "lo", "type": "quantitative", "stack": null, "scale": {"domain": [5, 45.2], "nice": false, "zero": false}, "axis": {"title": "Vis. amp.", "values": [10,15,20,25,30,35,40,45]}},
      "y2": {"field": "hi"},
      "color": {"field": "s", "type": "nominal", "scale": {"domain": ["b","g"], "range": ["#0000ff","#008000"]}, "legend": null},
      "stroke": {"field": "s", "type": "nominal", "scale": {"domain": ["b","g"], "range": ["#0000ff","#008000"]}, "legend": null}}},
    {"data": {"name": "pts"}, "transform": [{"filter": "datum.p=='HB'"}], "mark": {"type": "circle", "size": 12, "opacity": 1}, "encoding": {
      "x": {"field": "t", "type": "quantitative", "axis": {"orient": "top", "labels": false, "title": null, "values": [0,500,1000,1500,2000,2500,3000,3500]}},
      "y": {"field": "v", "type": "quantitative", "axis": {"orient": "right", "labels": false, "title": null, "titlePadding": 0, "minExtent": 4.05, "values": [10,15,20,25,30,35,40,45]}},
      "color": {"field": "s", "type": "nominal", "legend": null}}}],
    "resolve": {"axis": {"x": "independent", "y": "independent"}}}
  ], "spacing": 30},
  {"hconcat": [
   {"title": {"text": "Baseline CS001LBA-DE604LBA", "offset": 6.6}, "width": 342, "height": 94, "layer": [
    {"data": {"name": "band"}, "transform": [{"filter": "datum.p=='HC'"}], "mark": {"type": "area", "strokeWidth": 1.5, "interpolate": "linear"}, "encoding": {
      "x": {"field": "t", "type": "quantitative", "scale": {"domain": [-70, 3660], "nice": false, "zero": false}, "axis": {"title": "Time", "values": [0,500,1000,1500,2000,2500,3000,3500]}},
      "y": {"field": "lo", "type": "quantitative", "stack": null, "scale": {"domain": [5.2, 41.3], "nice": false, "zero": false}, "axis": {"title": "Vis. amp.", "values": [10,15,20,25,30,35,40]}},
      "y2": {"field": "hi"},
      "color": {"field": "s", "type": "nominal", "scale": {"domain": ["b","g"], "range": ["#0000ff","#008000"]}, "legend": null},
      "stroke": {"field": "s", "type": "nominal", "scale": {"domain": ["b","g"], "range": ["#0000ff","#008000"]}, "legend": null}}},
    {"data": {"name": "pts"}, "transform": [{"filter": "datum.p=='HC'"}], "mark": {"type": "circle", "size": 12, "opacity": 1}, "encoding": {
      "x": {"field": "t", "type": "quantitative", "axis": {"orient": "top", "labels": false, "title": null, "values": [0,500,1000,1500,2000,2500,3000,3500]}},
      "y": {"field": "v", "type": "quantitative", "axis": {"orient": "right", "labels": false, "title": null, "titlePadding": 0, "values": [10,15,20,25,30,35,40]}},
      "color": {"field": "s", "type": "nominal", "legend": null}}}],
    "resolve": {"axis": {"x": "independent", "y": "independent"}}},
   {"title": {"text": "Baseline CS001LBA-DE605LBA", "offset": 8.3}, "width": 343, "height": 94, "layer": [
    {"data": {"name": "band"}, "transform": [{"filter": "datum.p=='HD'"}], "mark": {"type": "area", "strokeWidth": 1.5, "interpolate": "linear"}, "encoding": {
      "x": {"field": "t", "type": "quantitative", "scale": {"domain": [-70, 3660], "nice": false, "zero": false}, "axis": {"title": "Time", "values": [0,500,1000,1500,2000,2500,3000,3500]}},
      "y": {"field": "lo", "type": "quantitative", "stack": null, "scale": {"domain": [4.7, 42], "nice": false, "zero": false}, "axis": {"title": "Vis. amp.", "values": [5,10,15,20,25,30,35,40]}},
      "y2": {"field": "hi"},
      "color": {"field": "s", "type": "nominal", "scale": {"domain": ["b","g"], "range": ["#0000ff","#008000"]}, "legend": null},
      "stroke": {"field": "s", "type": "nominal", "scale": {"domain": ["b","g"], "range": ["#0000ff","#008000"]}, "legend": null}}},
    {"data": {"name": "pts"}, "transform": [{"filter": "datum.p=='HD'"}], "mark": {"type": "circle", "size": 12, "opacity": 1}, "encoding": {
      "x": {"field": "t", "type": "quantitative", "axis": {"orient": "top", "labels": false, "title": null, "values": [0,500,1000,1500,2000,2500,3000,3500]}},
      "y": {"field": "v", "type": "quantitative", "axis": {"orient": "right", "labels": false, "title": null, "titlePadding": 0, "minExtent": 4.05, "values": [5,10,15,20,25,30,35,40]}},
      "color": {"field": "s", "type": "nominal", "legend": null}}}],
    "resolve": {"axis": {"x": "independent", "y": "independent"}}}
  ], "spacing": 30}
 ]}
],
"config": {
  "font": "DejaVu Sans",
  "numberFormat": "d",
  "view": {"stroke": "black", "strokeWidth": 2},
  "axis": {"grid": false, "domain": false, "minExtent": 0, "labelFlush": false, "tickColor": "black", "tickSize": -5, "tickWidth": 1, "labelFont": "DejaVu Sans", "labelColor": "black", "titleFont": "DejaVu Sans", "titleFontSize": 14, "titleFontWeight": "normal", "titleColor": "black"},
  "axisX": {"labelFontSize": 10.5, "labelPadding": 14, "titlePadding": 10},
  "axisY": {"labelFontSize": 11.5, "labelPadding": 8, "labelOverlap": false, "titlePadding": 12},
  "title": {"font": "DejaVu Sans", "fontSize": 13.4, "fontWeight": "normal", "color": "black"}
}
}
